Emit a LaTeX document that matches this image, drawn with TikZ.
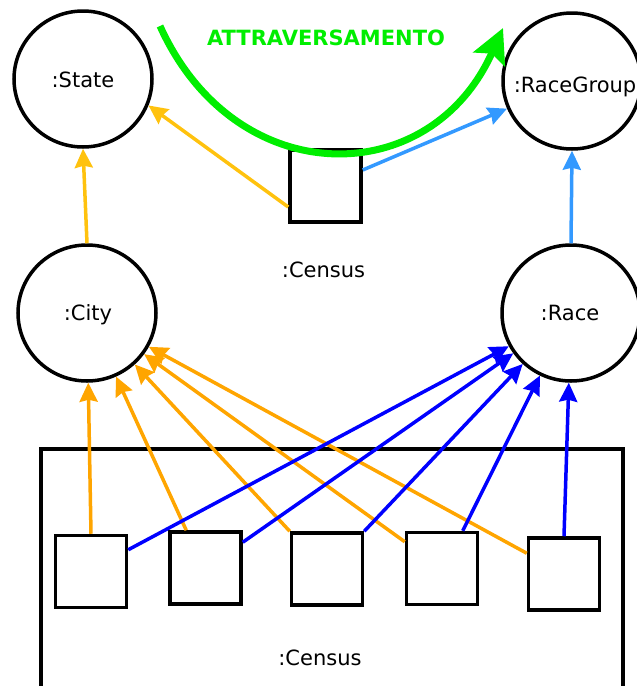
\documentclass[tikz,border=0pt]{standalone}
\usepackage{fontspec}
\setmainfont{DejaVu Sans}
\usetikzlibrary{arrows.meta,calc,shapes.geometric}
\definecolor{gold}{HTML}{FFC20E}
\definecolor{orng}{HTML}{FFA500}
\definecolor{skyblue}{HTML}{3399FF}
\definecolor{pureblue}{HTML}{0000FF}
\definecolor{lime}{HTML}{00EE00}

\begin{document}
\begin{tikzpicture}[x=1pt,y=-1pt,
  font=\fontsize{21}{25}\selectfont,
  entity/.style={draw=black,line width=3.5pt,ellipse,minimum width=138pt,minimum height=136pt,inner sep=0pt},
  record/.style={draw=black,line width=3.5pt,minimum width=71pt,minimum height=72pt,inner sep=0pt},
  caption/.style={anchor=base,inner sep=0pt},
  link/.style={line width=3.5pt,-{Stealth[length=19pt,width=18pt,inset=2pt]}},
]
\useasboundingbox (0,0) rectangle (637,686);
\clip (0,0) rectangle (637,686);

% outer census frame (runs past the bottom edge)
\draw[line width=4pt] (40.5,449) rectangle (623,720);

% entities
\node[entity] (state) at (83,79) {};
\node[entity] (city)  at (87,313) {};
\node[entity] (rg)    at (572,81) {};
\node[entity] (race)  at (571,313) {};
\node[caption] (statet) at (83,87)  {:State};
\node[caption] (cityt)  at (88,320) {:City};
\node[caption] (rgt)    at (575,92) {:RaceGroup};
\node[caption] (racet)  at (570,320) {:Race};

% census records
\node[record] (sq) at (325.5,186) {};
\node[caption] (sqt) at (323.5,277) {:Census};

\node[record] (b1) at (91,571.5) {};
\node[record] (b2) at (205.5,568) {};
\node[record] (b3) at (327,569) {};
\node[record] (b4) at (442,568.5) {};
\node[record] (b5) at (564,574) {};
\node[caption] (framet) at (320,665) {:Census};

% upper links
\draw[link,gold] (city.north) -- (state.south);
\draw[link,skyblue] (race.north) -- (rg.south);
\draw[link,gold] ($(sq.west)+(0,21)$) -- (state.-22);
\draw[link,skyblue] ($(sq.east)+(0,-16)$) -- (rg);

% records to city
\draw[link,orng] (b1.north) -- (city);
\draw[link,orng] ($(b2.north west)+(18,0)$) -- (city);
\draw[link,orng] (b3.north west) -- (city);
\draw[link,orng] ($(b4.north west)+(0,11)$) -- (city);
\draw[link,orng] ($(b5.north west)+(0,17)$) -- (city);

% records to race
\draw[link,pureblue] ($(b1.north east)+(0,16)$) -- (race);
\draw[link,pureblue] ($(b2.north east)+(0,12)$) -- (race);
\draw[link,pureblue] (b3.north east) -- (race);
\draw[link,pureblue] ($(b4.north west)+(58,0)$) -- (race);
\draw[link,pureblue] (b5.north) -- (race);

% traversal arc
\coordinate (gs) at (160,26);
\coordinate (ge) at (503,28);
\draw[line width=7pt,lime,-{Stealth[length=34pt,width=34pt,inset=6pt]}]
  (gs) .. controls (235,192) and (430,192) .. (ge);
\node[caption,lime,font=\fontsize{21}{25}\selectfont\bfseries] (trav) at (326,45) {ATTRAVERSAMENTO};
\end{tikzpicture}
\end{document}
